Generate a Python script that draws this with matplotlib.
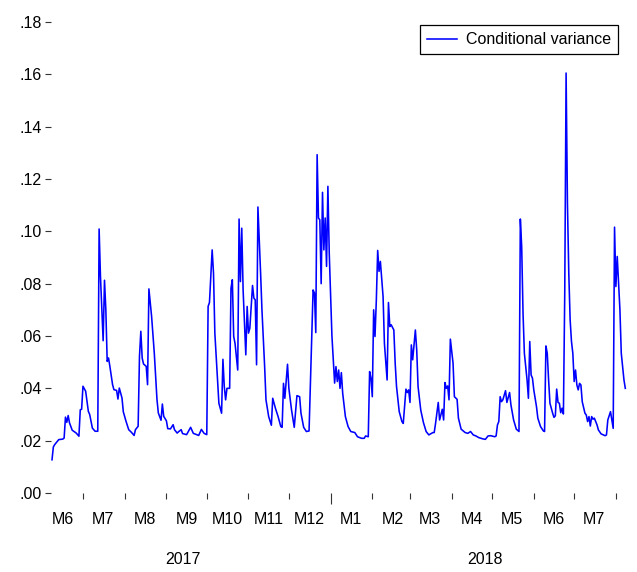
import matplotlib
matplotlib.use("Agg")
import matplotlib.pyplot as plt
import matplotlib.dates as mdates
import matplotlib.transforms as mtransforms
import pandas as pd

plt.rcParams['font.family'] = ['Liberation Sans', 'DejaVu Sans']

dates = [
    "2017-06-08", "2017-06-09", "2017-06-10", "2017-06-13", "2017-06-16", "2017-06-17",
    "2017-06-18", "2017-06-19", "2017-06-20", "2017-06-21", "2017-06-23", "2017-06-26",
    "2017-06-28", "2017-06-29", "2017-06-30",
    "2017-07-01", "2017-07-03", "2017-07-05", "2017-07-06", "2017-07-08", "2017-07-10",
    "2017-07-12", "2017-07-13", "2017-07-14", "2017-07-16", "2017-07-17", "2017-07-18",
    "2017-07-19", "2017-07-20", "2017-07-21", "2017-07-23", "2017-07-24", "2017-07-26",
    "2017-07-27", "2017-07-28", "2017-07-30", "2017-07-31",
    "2017-08-02", "2017-08-04", "2017-08-06", "2017-08-08", "2017-08-09", "2017-08-11",
    "2017-08-12", "2017-08-13", "2017-08-14", "2017-08-15", "2017-08-17", "2017-08-18",
    "2017-08-19", "2017-08-21", "2017-08-23", "2017-08-25", "2017-08-26", "2017-08-28",
    "2017-08-29", "2017-08-30",
    "2017-09-01", "2017-09-02", "2017-09-04", "2017-09-06", "2017-09-07", "2017-09-09",
    "2017-09-10", "2017-09-12", "2017-09-13", "2017-09-16", "2017-09-19", "2017-09-21",
    "2017-09-25", "2017-09-27", "2017-09-29",
    "2017-10-01", "2017-10-02", "2017-10-03", "2017-10-05", "2017-10-06", "2017-10-07",
    "2017-10-09", "2017-10-10", "2017-10-12", "2017-10-13", "2017-10-14", "2017-10-15",
    "2017-10-16", "2017-10-18", "2017-10-19", "2017-10-20", "2017-10-21", "2017-10-22",
    "2017-10-24", "2017-10-25", "2017-10-26", "2017-10-27", "2017-10-28", "2017-10-30",
    "2017-10-31",
    "2017-11-01", "2017-11-02", "2017-11-04", "2017-11-05", "2017-11-06", "2017-11-07",
    "2017-11-08", "2017-11-10", "2017-11-11", "2017-11-13", "2017-11-14", "2017-11-16",
    "2017-11-18", "2017-11-19", "2017-11-21", "2017-11-23", "2017-11-25", "2017-11-26",
    "2017-11-27", "2017-11-28", "2017-11-30",
    "2017-12-01", "2017-12-03", "2017-12-05", "2017-12-07", "2017-12-09", "2017-12-10",
    "2017-12-12", "2017-12-14", "2017-12-16", "2017-12-19", "2017-12-20", "2017-12-21",
    "2017-12-22", "2017-12-23", "2017-12-24", "2017-12-25", "2017-12-26", "2017-12-27",
    "2017-12-28", "2017-12-29", "2017-12-30", "2017-12-31",
    "2018-01-02", "2018-01-04", "2018-01-05", "2018-01-06", "2018-01-07", "2018-01-08",
    "2018-01-09", "2018-01-10", "2018-01-12", "2018-01-14", "2018-01-16", "2018-01-19",
    "2018-01-21", "2018-01-24", "2018-01-26", "2018-01-27", "2018-01-29", "2018-01-30",
    "2018-01-31",
    "2018-02-01", "2018-02-02", "2018-02-03", "2018-02-04", "2018-02-05", "2018-02-06",
    "2018-02-07", "2018-02-09", "2018-02-10", "2018-02-12", "2018-02-13", "2018-02-14",
    "2018-02-15", "2018-02-17", "2018-02-18", "2018-02-19", "2018-02-21", "2018-02-23",
    "2018-02-24", "2018-02-26", "2018-02-27", "2018-02-28",
    "2018-03-01", "2018-03-02", "2018-03-03", "2018-03-05", "2018-03-06", "2018-03-07",
    "2018-03-09", "2018-03-11", "2018-03-13", "2018-03-15", "2018-03-18", "2018-03-19",
    "2018-03-20", "2018-03-22", "2018-03-23", "2018-03-25", "2018-03-26", "2018-03-27",
    "2018-03-28", "2018-03-29", "2018-03-30", "2018-03-31",
    "2018-04-02", "2018-04-03", "2018-04-05", "2018-04-06", "2018-04-08", "2018-04-11",
    "2018-04-13", "2018-04-15", "2018-04-17", "2018-04-19", "2018-04-21", "2018-04-24",
    "2018-04-26", "2018-04-28", "2018-04-30",
    "2018-05-03", "2018-05-04", "2018-05-05", "2018-05-06", "2018-05-07", "2018-05-08",
    "2018-05-09", "2018-05-11", "2018-05-12", "2018-05-14", "2018-05-15", "2018-05-17",
    "2018-05-19", "2018-05-21", "2018-05-22", "2018-05-23", "2018-05-24", "2018-05-25",
    "2018-05-27", "2018-05-28", "2018-05-29", "2018-05-30", "2018-05-31",
    "2018-06-01", "2018-06-03", "2018-06-04", "2018-06-06", "2018-06-08", "2018-06-09",
    "2018-06-10", "2018-06-11", "2018-06-12", "2018-06-13", "2018-06-15", "2018-06-16",
    "2018-06-17", "2018-06-18", "2018-06-19", "2018-06-20", "2018-06-21", "2018-06-22",
    "2018-06-23", "2018-06-24", "2018-06-25", "2018-06-26", "2018-06-27", "2018-06-28",
    "2018-06-29", "2018-06-30",
    "2018-07-01", "2018-07-02", "2018-07-03", "2018-07-04", "2018-07-05", "2018-07-06",
    "2018-07-07", "2018-07-09", "2018-07-10", "2018-07-11", "2018-07-12", "2018-07-13",
    "2018-07-14", "2018-07-15", "2018-07-16", "2018-07-18", "2018-07-19", "2018-07-21",
    "2018-07-24", "2018-07-25", "2018-07-26", "2018-07-28", "2018-07-29", "2018-07-30",
    "2018-07-31",
    "2018-08-01", "2018-08-02", "2018-08-04", "2018-08-05", "2018-08-07", "2018-08-08",
]

cond_variance = [
    .0127, .0176, .0185, .0204, .0206, .0210,
    .0290, .0270, .0296, .0268, .0240, .0229,
    .0217, .0318, .0320,
    .0408, .0389, .0312, .0300, .0248, .0236,
    .0236, .1009, .0828, .0582, .0813, .0700,
    .0503, .0516, .0484, .0414, .0395, .0392,
    .0359, .0401, .0363, .0310,
    .0274, .0242, .0232, .0220, .0242, .0255,
    .0522, .0618, .0516, .0493, .0484, .0414,
    .0780, .0675, .0535, .0357, .0306, .0278,
    .0340, .0293,
    .0276, .0246, .0245, .0261, .0242, .0229,
    .0234, .0242, .0227, .0223, .0251, .0228,
    .0220, .0243, .0228,
    .0223, .0713, .0728, .0929, .0840, .0611,
    .0432, .0343, .0305, .0511, .0407, .0356,
    .0400, .0400, .0783, .0815, .0598, .0572,
    .0470, .1047, .0808, .1012, .0776, .0528,
    .0713,
    .0611, .0630, .0793, .0745, .0738, .0490,
    .1093, .0840, .0700, .0483, .0356, .0292,
    .0259, .0362, .0324, .0292, .0254, .0251,
    .0419, .0362, .0492,
    .0400, .0317, .0251, .0372, .0368, .0305,
    .0251, .0235, .0237, .0776, .0764, .0613,
    .1293, .1051, .1044, .0800, .1149, .0929,
    .1051, .0866, .1172, .0917,
    .0600, .0420, .0483, .0426, .0470, .0400,
    .0460, .0381, .0292, .0254, .0235, .0231,
    .0215, .0209, .0209, .0218, .0215, .0464,
    .0439,
    .0368, .0700, .0598, .0738, .0927, .0847,
    .0885, .0751, .0572, .0432, .0728, .0636,
    .0643, .0623, .0496, .0407, .0311, .0273,
    .0266, .0397, .0384, .0394,
    .0346, .0566, .0509, .0623, .0547, .0407,
    .0317, .0269, .0235, .0222, .0231, .0231,
    .0266, .0346, .0279, .0320, .0279, .0422,
    .0400, .0409, .0356, .0588,
    .0496, .0368, .0358, .0286, .0244, .0231,
    .0228, .0235, .0222, .0218, .0212, .0207,
    .0205, .0218, .0219,
    .0215, .0218, .0260, .0273, .0368, .0349,
    .0356, .0391, .0346, .0384, .0337, .0279,
    .0244, .0235, .1047, .0942, .0687, .0534,
    .0432, .0362, .0579, .0451, .0439,
    .0394, .0330, .0286, .0254, .0238, .0235,
    .0562, .0534, .0432, .0343, .0305, .0289,
    .0295, .0397, .0346, .0343, .0307, .0324,
    .0302, .0764, .1605, .1108, .0840, .0662,
    .0579, .0534,
    .0426, .0470, .0413, .0394, .0419, .0413,
    .0349, .0305, .0298, .0273, .0292, .0256,
    .0292, .0282, .0286, .0260, .0241, .0226,
    .0219, .0222, .0279, .0311, .0279, .0247,
    .1016,
    .0789, .0904, .0700, .0534, .0432, .0400,
]

series_label = "Conditional variance"
y_ticks = [0.00, 0.02, 0.04, 0.06, 0.08, 0.10, 0.12, 0.14, 0.16, 0.18]
month_labels = ["M6", "M7", "M8", "M9", "M10", "M11", "M12",
                "M1", "M2", "M3", "M4", "M5", "M6", "M7"]
year_labels = ["2017", "2018"]
year_label_dates = ["2017-09-13", "2018-04-26"]

x = pd.to_datetime(dates)

W, H = 637, 572
fig = plt.figure(figsize=(W / 100, H / 100), dpi=100)
ax = fig.add_axes([51 / W, 79 / H, 577 / W, 471 / H])

ax.plot(x, cond_variance, color=(0, 0, 1), linewidth=1.15, label=series_label)

ax.set_xlim(pd.Timestamp("2017-06-07 06:00"), pd.Timestamp("2018-08-10"))
ax.set_ylim(0, 0.18)

for s in ax.spines.values():
    s.set_visible(False)

# y axis
ax.set_yticks(y_ticks)
ax.set_yticklabels([("%.2f" % v).lstrip("0") for v in y_ticks])
ax.tick_params(axis="y", which="major", direction="out", length=4.3, width=0.8,
               pad=2.2, labelsize=11.5, color="#333333")

# x axis: month boundaries as ticks, labels at mid-month
ax.xaxis.set_major_locator(mdates.MonthLocator())
ax.xaxis.set_major_formatter(plt.NullFormatter())
ax.xaxis.set_minor_locator(mdates.MonthLocator(bymonthday=16))
ax.xaxis.set_minor_formatter(plt.FixedFormatter(month_labels))
ax.tick_params(axis="x", which="major", direction="out", length=4.5, width=0.8,
               color="#333333")
ax.tick_params(axis="x", which="minor", length=0, pad=14, labelsize=11.5)

fig.canvas.draw()
locs = ax.xaxis.get_majorticklocs()
for loc, tick in zip(locs, ax.xaxis.get_major_ticks()):
    d = mdates.num2date(loc)
    if d.month == 1 and d.day == 1:
        tick.tick1line.set_markersize(8)

# year labels
trans = mtransforms.blended_transform_factory(ax.transData, ax.transAxes)
for lab, dstr in zip(year_labels, year_label_dates):
    ax.text(pd.Timestamp(dstr), -0.142, lab, transform=trans, ha="center",
            va="center", fontsize=11.5)

leg = ax.legend(loc="upper right", bbox_to_anchor=(0.9827, 0.9936), borderaxespad=0,
                fancybox=False, edgecolor="black", framealpha=1, fontsize=11.5,
                handlelength=1.85, handletextpad=0.55, borderpad=0.45)
leg.get_frame().set_linewidth(0.9)

fig.savefig("out.png", dpi=100)
